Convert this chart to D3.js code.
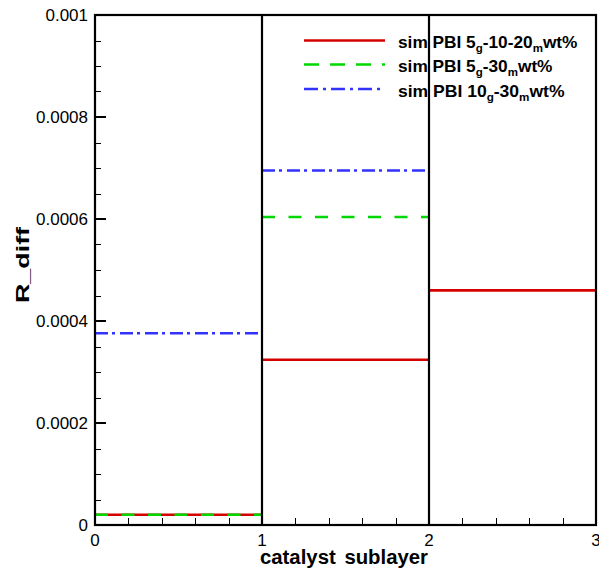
<!DOCTYPE html>
<html><head><meta charset="utf-8">
<script src="https://cdn.jsdelivr.net/npm/d3@7"></script>
<style>
html,body{margin:0;padding:0;background:#fff;}
svg{display:block;font-family:"Liberation Sans",Arial,sans-serif;}
</style></head>
<body>
<svg id="chart" width="599" height="574"></svg>
<script>
// ---- data ----
const sublayers = [0, 1, 2, 3];
const seriesNames = ["sim", "sim", "sim"];
const redValues = [0.00002, 0.000324, 0.00046];
const greenValues = [0.00002, 0.000604];
const blueValues = [0.000376, 0.000695];
const yTickValues = [0, 0.0002, 0.0004, 0.0006, 0.0008, 0.001];
const yTickLabels = ["0", "0.0002", "0.0004", "0.0006", "0.0008", "0.001"];
const xTickValues = [0, 1, 2, 3];
const xTickLabels = ["0", "1", "2", "3"];
const legendLabels = [
  [["PBI 5", ""], ["g", "sub"], ["-10-20", ""], ["m", "sub"], ["wt%", ""]],
  [["PBI 5", ""], ["g", "sub"], ["-30", ""], ["m", "sub"], ["wt%", ""]],
  [["PBI 10", ""], ["g", "sub"], ["-30", ""], ["m", "sub"], ["wt%", ""]]
];

const svg = d3.select("#chart");
const L = 95, R = 596, T = 15, B = 525;
const x = d3.scaleLinear().domain([0, 3]).range([L, R]);
const y = d3.scaleLinear().domain([0, 0.001]).range([B, T]);

const styles = [
  {color: "#d40000", dash: null},
  {color: "#00d800", dash: "13,13.5"},
  {color: "#3232ff", dash: "13,4,3,5"}
];
const allSeries = [redValues, greenValues, blueValues];

// data segments
allSeries.forEach((vals, si) => {
  const st = styles[si];
  svg.append("g").selectAll("line").data(vals).join("line")
    .attr("x1", (d, i) => x(sublayers[i]))
    .attr("x2", (d, i) => x(sublayers[i + 1]))
    .attr("y1", d => y(d)).attr("y2", d => y(d))
    .attr("stroke", st.color).attr("stroke-width", 2.6)
    .attr("stroke-dasharray", st.dash);
});

// legend
const legY = [40.5, 64.5, 89];
const legTextW = [180, 155, 167];
const lg = svg.append("g");
legendLabels.forEach((parts, i) => {
  const st = styles[i];
  lg.append("line").attr("x1", 304).attr("x2", 385)
    .attr("y1", legY[i]).attr("y2", legY[i])
    .attr("stroke", st.color).attr("stroke-width", 2.6)
    .attr("stroke-dasharray", i === 1 ? "15,11" : (i === 2 ? "14,5,3,5" : null));
  const g = lg.append("g").attr("transform", `translate(398,${legY[i] + 7.5})`);
  const t = g.append("text").attr("x", 0).attr("y", 0)
    .attr("font-size", 16.5).attr("font-weight", "bold").attr("fill", "#000");
  t.append("tspan").text(seriesNames[i] + " ");
  parts.forEach(([txt, kind]) => {
    if (kind === "sub") {
      t.append("tspan").attr("font-size", 11).attr("dy", 4).text(txt);
    } else {
      const s = t.append("tspan").text(txt);
      if (t.selectAll("tspan").size() > 2) s.attr("dy", -4);
    }
  });
  const w = t.node().getBBox().width;
  g.attr("transform", `translate(398,${legY[i] + 7.5}) scale(${legTextW[i] / w},1)`);
});

// sublayer boundaries
svg.append("g").selectAll("line").data(xTickValues.slice(1, 3)).join("line")
  .attr("x1", d => x(d)).attr("x2", d => x(d))
  .attr("y1", T).attr("y2", B)
  .attr("stroke", "#000").attr("stroke-width", 2.2);

// y ticks (inside)
const yMinor = d3.range(0, 0.00100001, 0.00005).filter(v => !yTickValues.some(m => Math.abs(m - v) < 1e-9));
const gy = svg.append("g");
gy.selectAll("line.min").data(yMinor).join("line")
  .attr("x1", L).attr("x2", L + 6).attr("y1", d => Math.round(y(d)) + 0.5).attr("y2", d => Math.round(y(d)) + 0.5)
  .attr("stroke", "#000").attr("stroke-width", 1);
gy.selectAll("line.maj").data(yTickValues).join("line")
  .attr("x1", L).attr("x2", L + 11).attr("y1", d => y(d)).attr("y2", d => y(d))
  .attr("stroke", "#000").attr("stroke-width", 2);
gy.selectAll("text").data(yTickValues).join("text")
  .attr("x", 88).attr("y", d => y(d) + 6)
  .attr("text-anchor", "end").attr("font-size", 17).attr("fill", "#000")
  .text((d, i) => yTickLabels[i]);

// x ticks (inside)
const xMinor = d3.range(0, 3.0001, 0.2).filter(v => !xTickValues.some(m => Math.abs(m - v) < 1e-9));
const gx = svg.append("g");
gx.selectAll("line").data(xMinor).join("line")
  .attr("x1", d => Math.round(x(d)) + 0.5).attr("x2", d => Math.round(x(d)) + 0.5)
  .attr("y1", B).attr("y2", B - 7)
  .attr("stroke", "#000").attr("stroke-width", 1);
gx.selectAll("text").data(xTickValues).join("text")
  .attr("x", d => x(d)).attr("y", 546)
  .attr("text-anchor", "middle").attr("font-size", 17).attr("fill", "#000")
  .text((d, i) => xTickLabels[i]);

// frame
svg.append("rect").attr("x", L).attr("y", T).attr("width", R - L).attr("height", B - T)
  .attr("fill", "none").attr("stroke", "#000").attr("stroke-width", 2.2);

// axis titles
svg.append("text").attr("x", 344).attr("y", 564).attr("text-anchor", "middle")
  .attr("font-size", 20).attr("font-weight", "bold").attr("word-spacing", 3)
  .attr("textLength", 168).attr("lengthAdjust", "spacingAndGlyphs").text("catalyst sublayer");
svg.append("text").attr("transform", "translate(29,265) rotate(-90)").attr("text-anchor", "middle")
  .attr("font-size", 18).attr("font-weight", "bold")
  .attr("textLength", 76).attr("lengthAdjust", "spacingAndGlyphs").text("R_diff");
</script>
</body></html>
